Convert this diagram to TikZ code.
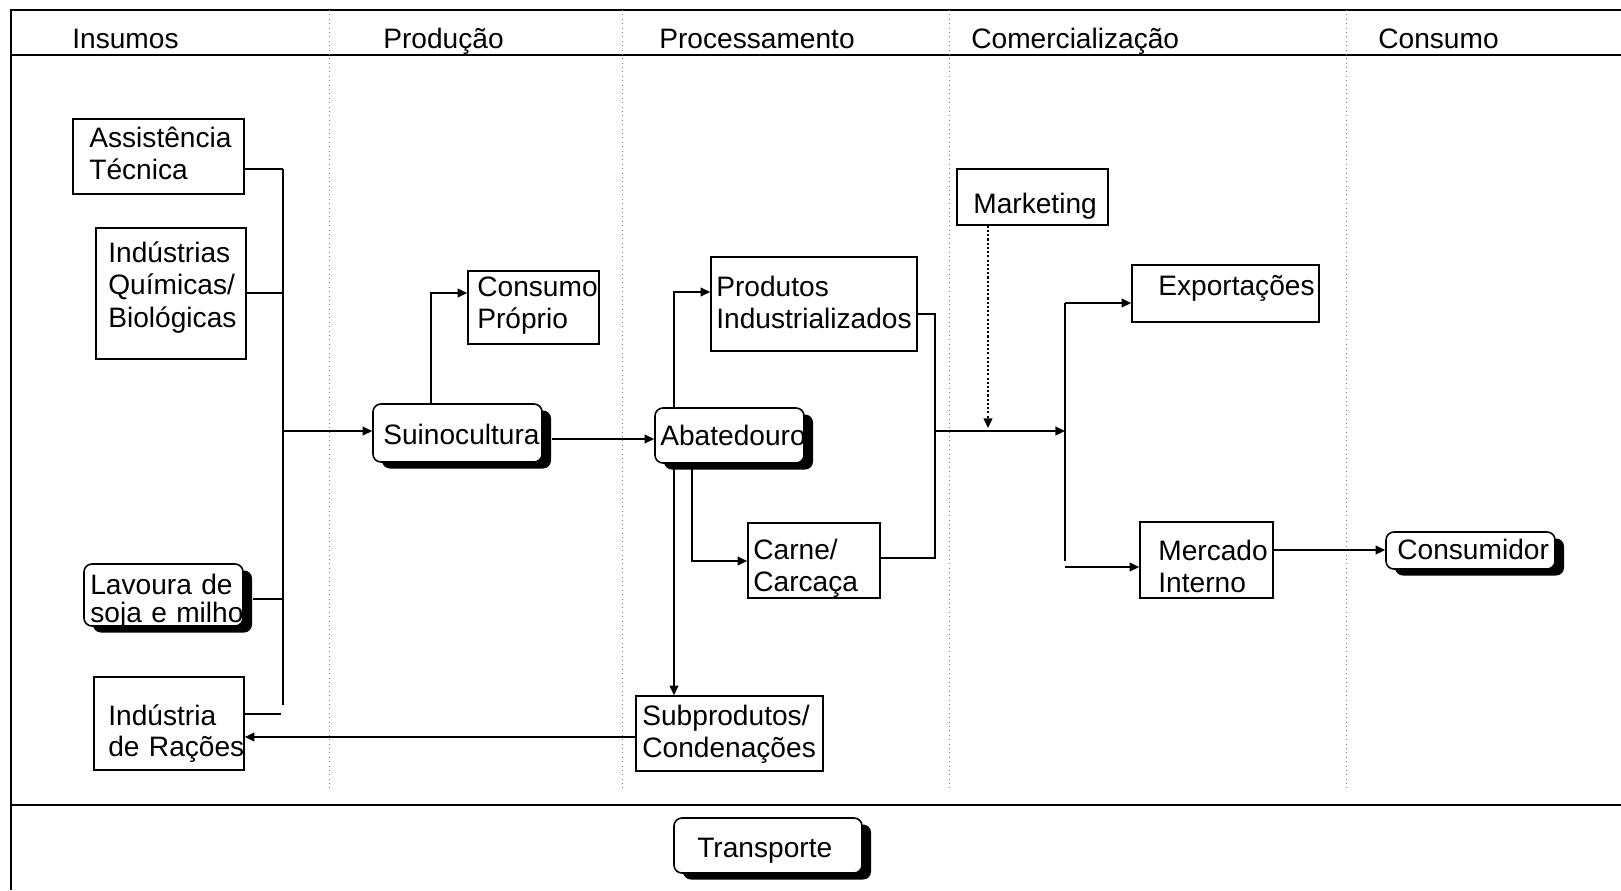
\documentclass[tikz,border=0pt]{standalone}
\usepackage{fontspec}
\setmainfont{Liberation Sans}
\usetikzlibrary{arrows.meta,calc,fit,shadows}
\newcommand\figfont{\fontsize{16.0}{18.5}\selectfont}
\begin{document}
\begin{tikzpicture}[x=0.02cm,y=-0.02cm,
  figtext/.style={inner sep=0pt, anchor=base west, font=\figfont, text width=6cm, align=left},
  box/.style={draw, line width=0.9pt, inner sep=0pt, fill=white},
  rbox/.style={box, rounded corners=4.5pt, drop shadow={shadow xshift=0.18cm, shadow yshift=-0.13cm, fill=black, opacity=1}},
  conn/.style={line width=1pt},
  bus/.style={line width=1.4pt},
  arr/.style={conn, -{Triangle[length=5.5pt,width=5pt]}},
  frame/.style={line width=1.5pt},
  col/.style={dotted, line width=0.5pt, gray}]
\fill[white] (0,0) rectangle (1621,890);
\useasboundingbox (0,0) rectangle (1621,890);
% frame
\draw[frame] (1621,10) -- (11,10) -- (11,890);
\draw[frame] (11,55) -- (1621,55);
\draw[frame] (11,805) -- (1621,805);
% column separators
\draw[col] (329,10) -- (329,789);
\draw[col] (622,10) -- (622,789);
\draw[col] (949,10) -- (949,789);
\draw[col] (1346,10) -- (1346,789);
% headers
\node[figtext] (h1) at (72,48) {Insumos};
\node[figtext] (h2) at (383,48) {Produção};
\node[figtext] (h3) at (659,48) {Processamento};
\node[figtext] (h4) at (971,48) {Comercialização};
\node[figtext] (h5) at (1378,48) {Consumo};
% boxes
\node[box, fit={(73,119) (244,194)}] (ast) {};
\node[box, fit={(96,228) (246,359)}] (ind) {};
\node[rbox, fit={(84,564) (243,626)}] (lav) {};
\node[box, fit={(94,677) (244,770)}] (rac) {};
\node[box, fit={(468,271) (599,344)}] (cp) {};
\node[rbox, fit={(373,404) (542,462)}] (sui) {};
\node[rbox, fit={(655,408) (804,463)}] (aba) {};
\node[box, fit={(711,257) (917,351)}] (prod) {};
\node[box, fit={(748,523) (880,598)}] (car) {};
\node[box, fit={(636,696) (823,771)}] (sub) {};
\node[box, fit={(957,169) (1108,225)}] (mkt) {};
\node[box, fit={(1132,265) (1319,322)}] (exp) {};
\node[box, fit={(1140,522) (1273,598)}] (mer) {};
\node[rbox, fit={(1386,532) (1555,569)}] (con) {};
\node[rbox, fit={(674,818) (862,873)}] (tra) {};
% texts
\node[figtext] (tast) at (89,147) {Assistência\\Técnica};
\node[figtext] (tind) at (108,262) {Indústrias\\Químicas/\\Biológicas};
\node[figtext, font=\fontsize{16.0}{16.1}\selectfont] (tlav) at (90,594) {Lavoura de\\soja e milho};
\node[figtext, font=\fontsize{16.0}{18.1}\selectfont] (trac) at (108,725) {Indústria\\de Rações};
\node[figtext] (tcp) at (477,296) {Consumo\\Próprio};
\node[figtext] (tsui) at (383,444) {Suinocultura};
\node[figtext] (taba) at (660,445) {Abatedouro};
\node[figtext] (tprod) at (716,296) {Produtos\\Industrializados};
\node[figtext] (tcar) at (753,559) {Carne/\\Carcaça};
\node[figtext] (tsub) at (642,725) {Subprodutos/\\Condenações};
\node[figtext] (tmkt) at (973,213) {Marketing};
\node[figtext] (texp) at (1158,295) {Exportações};
\node[figtext] (tmer) at (1158,560) {Mercado\\Interno};
\node[figtext] (tcon) at (1397,559) {Consumidor};
\node[figtext] (ttra) at (697,857) {Transporte};
% left bus
\coordinate (bL) at (283,169);
\coordinate (bLend) at (283,705);
\coordinate (racstub) at (281,714);
\draw[bus] (bL) -- (bLend);
\draw[conn] (ast.east |- bL) -- (bL);
\draw[conn] (ind.east |- 0,293) -- (bL |- 0,293);
\draw[conn] ($(lav.east)+(9,4)$) -- (bL |- 0,599);
\draw[conn] (rac.east |- racstub) -- (racstub);
\draw[arr] (bL |- 0,431) -- (sui.west |- 0,431);
% production
\draw[arr] (sui.north -| 431,0) |- (cp.west |- 0,293);
\draw[arr] ($(sui.east |- 0,439)+(9,0)$) -- (aba.west |- 0,439);
% processing
\draw[arr] (aba.north -| 674,0) |- (prod.west |- 0,292);
\draw[arr] (aba.south -| 692,0) |- (car.west |- 0,561);
\draw[arr] (aba.south -| 674,0) -- (sub.north -| 674,0);
\coordinate (jc) at (935,431);
\draw[conn] (prod.east |- 0,314) -| (935,558) -- (car.east |- 0,558);
% commercial bus
\coordinate (bCtop) at (1065,303);
\coordinate (bCbot) at (1065,561);
\coordinate (bCmid) at (1065,431);
\coordinate (mertail) at (1065,567);
\coordinate (mkttip) at (988,428);
\draw[bus] (bCtop) -- (bCbot);
\draw[arr] (jc) -- (bCmid);
\draw[arr, dash pattern=on 1.2pt off 1.2pt] (mkt.south -| mkttip) -- (mkttip);
\draw[arr] (bCtop) -- (exp.west |- bCtop);
\draw[arr] (mertail) -- (mer.west |- mertail);
\draw[arr] (mer.east |- 0,550) -- (con.west |- 0,550);
% by-products back to feed industry
\draw[arr] (sub.west |- 0,737) -- (rac.east |- 0,737);
\end{tikzpicture}
\end{document}
